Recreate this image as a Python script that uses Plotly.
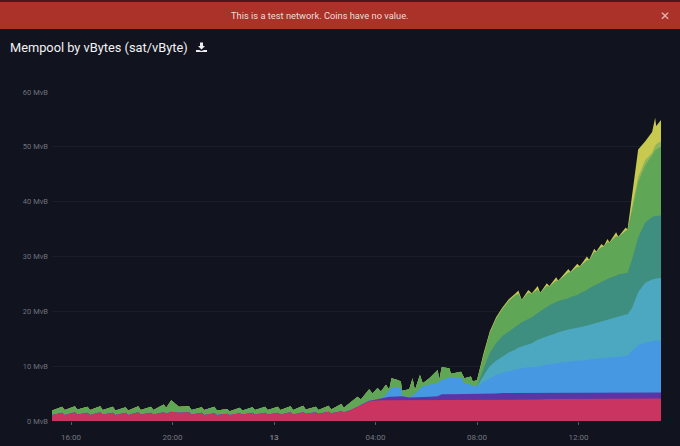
import plotly.graph_objects as go

# time in hours since 00:00 of the previous day
hours_early = [15.25,15.65,15.75,16.15,16.25,16.65,16.75,17.15,17.25,17.65,17.75,18.15,18.25,18.65,18.75,19.15,19.25,19.65,19.75,19.95,
               20.25,20.65,20.75,21.15,21.25,21.65,21.75,22.15,22.25,22.65,22.75,23.15,23.25,23.65,23.75,24.15,24.25,24.65,24.75,25.15,
               25.25,25.65,25.75,26.15,26.25,26.65,26.75]
pink_early = [1.1,1.5,1.1,1.6,1.2,1.5,1.1,1.6,1.2,1.5,1.1,1.5,1.1,1.6,1.2,1.5,1.2,1.6,1.3,1.7,
              1.5,1.6,1.2,1.5,1.1,1.4,1.1,1.3,1.1,1.4,1.2,1.5,1.2,1.5,1.2,1.5,1.2,1.6,1.2,1.6,
              1.3,1.6,1.3,1.7,1.4,1.8,1.6]
total_early = [1.9,2.6,2.0,2.7,2.1,2.6,2.0,2.7,2.0,2.6,1.9,2.5,1.9,2.7,2.0,2.6,2.0,3.0,2.4,3.8,
               2.6,2.7,2.0,2.5,2.0,2.6,1.9,2.2,1.8,2.4,1.9,2.5,2.0,2.6,2.0,2.6,2.0,2.7,2.0,2.8,
               2.1,2.6,2.0,2.8,2.1,3.1,2.4]

hours_mid = [27.03,27.29,27.42,27.75,27.88,28.08,28.21,28.41,28.54,28.63,28.87,29.0,29.04,29.33,29.46,29.55,29.75,29.86,30.12,30.45,
             30.51,30.61,30.91,30.97,31.37,31.5,31.76,31.83,32.0]
pink_mid = [2.0,2.6,2.9,3.6,3.7,3.8,3.8,3.8,3.8,3.8,3.8,3.8,3.8,3.8,3.8,3.8,3.8,3.8,3.8,3.8,
            3.8,3.8,3.8,3.8,3.8,3.9,3.9,3.9,3.9]
purple_mid = [2.0,2.6,2.9,3.7,3.8,4.0,4.0,4.3,4.4,4.4,4.5,4.5,4.5,4.3,4.3,4.3,4.3,4.3,4.4,4.5,
              4.7,4.9,4.9,4.9,5.0,5.0,5.0,5.0,5.0]
blue_mid = [2.0,2.6,2.9,3.7,3.8,4.0,4.0,4.8,5.6,6.0,6.0,6.0,4.6,4.3,4.6,5.0,5.8,6.3,6.6,6.9,
            7.2,7.5,7.9,7.9,7.8,6.8,6.6,6.4,6.3]
total_mid = [3.5,4.4,3.9,5.8,5.0,6.0,5.4,6.6,5.7,7.8,7.5,7.2,5.5,5.8,7.8,5.6,8.4,6.9,7.8,9.3,
             7.5,9.8,9.6,8.6,9.0,7.8,8.1,7.2,7.5]

hours_late = [32.25,32.5,32.75,33.0,33.25,33.5,33.63,33.76,34.02,34.16,34.39,34.49,34.75,34.85,35.12,35.2,35.6,35.68,35.95,36.05,
              36.33,36.42,36.62,36.7,36.9,37.0,37.14,37.22,37.48,37.57,37.86,37.93,38.11,38.35,38.63,38.9,39.02,39.06,39.25]
pink_late = [3.9,3.9,3.9,3.9,3.9,3.9,3.9,3.9,3.9,3.9,3.9,3.9,4.0,4.0,4.0,4.0,4.0,4.0,4.0,4.0,
             4.0,4.0,4.0,4.0,4.0,4.0,4.0,4.0,4.0,4.0,4.0,4.0,4.1,4.1,4.1,4.1,4.1,4.1,4.1]
purple_late = [5.0,5.0,5.0,5.1,5.1,5.1,5.1,5.1,5.1,5.1,5.1,5.1,5.1,5.1,5.1,5.1,5.1,5.1,5.1,5.1,
               5.1,5.1,5.1,5.2,5.2,5.2,5.2,5.2,5.2,5.2,5.2,5.2,5.2,5.2,5.2,5.2,5.2,5.2,5.2]
blue_late = [7.1,7.8,8.4,8.8,9.1,9.3,9.5,9.6,9.8,9.8,10.0,10.0,10.3,10.3,10.5,10.6,10.8,10.9,11.0,11.0,
             11.1,11.2,11.3,11.3,11.5,11.5,11.6,11.6,11.8,11.8,11.9,11.9,12.8,13.8,14.3,14.6,14.7,14.7,14.7]
teal_light_late = [8.2,10.0,11.0,11.8,12.5,13.0,13.4,13.6,14.0,14.2,14.8,15.0,15.5,15.6,16.0,16.2,16.7,16.8,17.0,17.1,
                   17.3,17.5,17.8,17.9,18.2,18.3,18.5,18.6,19.0,19.1,19.4,19.4,20.6,23.5,25.2,25.8,26.0,26.0,26.1]
teal_late = [9.5,12.4,14.2,15.5,16.3,17.2,17.7,18.0,18.6,18.9,19.7,20.0,20.8,21.1,21.7,21.9,22.4,22.6,23.0,23.3,
             23.9,24.2,24.7,24.9,25.3,25.5,25.9,26.1,26.5,26.7,27.0,27.0,29.5,33.5,36.2,37.2,37.4,37.4,37.5]
green_late = [12.0,16.0,18.6,20.4,21.9,22.9,23.2,22.0,23.4,23.2,24.0,23.3,24.6,24.5,25.6,25.5,27.1,27.1,28.1,28.1,
              29.3,29.3,30.8,30.8,31.7,31.8,32.6,32.5,33.7,33.5,34.7,34.8,38.5,43.6,46.7,48.4,49.4,49.5,50.0]
lime_late = [12.05,16.05,18.65,20.45,21.95,22.95,23.25,22.05,23.45,23.25,24.05,23.35,24.65,24.55,25.65,25.55,27.15,27.15,28.15,28.15,
             29.35,29.35,30.85,30.85,31.75,31.85,32.65,32.55,33.75,33.55,34.75,34.85,39.0,44.5,47.6,48.9,50.2,50.5,51.0]
yellow_late = [12.2,16.3,18.9,20.7,22.2,23.2,23.8,22.1,23.9,23.3,24.6,23.4,25.1,24.6,26.2,25.6,27.7,27.2,28.7,28.2,
               30.0,29.4,31.4,30.9,32.3,31.9,33.2,32.6,34.4,33.6,35.3,34.9,41.0,49.5,51.0,52.7,55.3,53.8,54.9]

hours = hours_early + hours_mid + hours_late
pink = pink_early + pink_mid + pink_late
purple = pink_early + purple_mid + purple_late
blue = pink_early + blue_mid + blue_late
teal_light = pink_early + blue_mid + teal_light_late
teal = pink_early + blue_mid + teal_late
green = total_early + total_mid + green_late
lime = total_early + total_mid + lime_late
yellow = total_early + total_mid + yellow_late

layers = [
    ("8+", yellow, "#c8c94f"),
    ("7", lime, "#8fb45c"),
    ("6", green, "#5fa757"),
    ("5", teal, "#3f8f80"),
    ("4", teal_light, "#4ba8c0"),
    ("3", blue, "#4698e2"),
    ("2", purple, "#5b35a6"),
    ("1", pink, "#c93461"),
]

x_tick_values = [16, 20, 24, 28, 32, 36]
x_tick_labels = ["16:00", "20:00", "<b>13</b>", "04:00", "08:00", "12:00"]
y_tick_values = [0, 10, 20, 30, 40, 50, 60]
y_tick_labels = ["0 MvB", "10 MvB", "20 MvB", "30 MvB", "40 MvB", "50 MvB", "60 MvB"]

W, H = 680, 446
L, R, T, B = 52, 19, 92, 25
px = lambda v: (v - L) / (W - L - R)
py = lambda v: (H - B - v) / (H - T - B)

fig = go.Figure()
for name, vals, col in layers:
    fig.add_trace(go.Scatter(x=hours, y=vals, name=name, mode="lines", fill="tozeroy",
                             fillcolor=col, line=dict(width=0, color=col), hoverinfo="skip"))

icon = (f"M {px(200)} {py(42.5)} L {px(203)} {py(42.5)} L {px(203)} {py(46)} L {px(205)} {py(46)} "
        f"L {px(201.5)} {py(49.5)} L {px(198)} {py(46)} L {px(200)} {py(46)} Z "
        f"M {px(196)} {py(50)} L {px(199)} {py(50)} L {px(201.5)} {py(51)} L {px(204)} {py(50)} "
        f"L {px(207)} {py(50)} L {px(207)} {py(52)} L {px(196)} {py(52)} Z")

fig.update_layout(
    width=W, height=H, margin=dict(l=L, r=R, t=T, b=B, pad=0, autoexpand=False),
    paper_bgcolor="#11131f", plot_bgcolor="#11131f", showlegend=False,
    font=dict(family="Roboto, sans-serif", color="#6f727c", size=8),
    xaxis=dict(range=[15.25, 39.25], tickmode="array", tickvals=x_tick_values, ticktext=x_tick_labels,
               automargin=False, ticklabelstandoff=5,
               showgrid=False, zeroline=False, showline=False, ticks="outside", ticklen=3, tickwidth=1,
               tickcolor="#5a5d68", tickfont=dict(size=8, color="#74777f")),
    yaxis=dict(range=[0, 60], tickmode="array", tickvals=y_tick_values, ticktext=y_tick_labels,
               automargin=False, ticklabelstandoff=3,
               gridcolor="#1a1e2a", gridwidth=1, zeroline=False, showline=False, ticks="",
               tickfont=dict(size=7.5, color="#6f727c")),
    shapes=[
        dict(type="rect", xref="paper", yref="paper", x0=px(0), x1=px(680), y0=py(29), y1=py(0),
             fillcolor="#ab3228", line=dict(width=0), layer="above"),
        dict(type="rect", xref="paper", yref="paper", x0=px(0), x1=px(680), y0=py(2), y1=py(0),
             fillcolor="#4a1a1a", line=dict(width=0), layer="above"),
        dict(type="path", xref="paper", yref="paper", path=icon, fillcolor="#eeeeee",
             line=dict(width=0), layer="above"),
    ],
    annotations=[
        dict(xref="paper", yref="paper", x=px(319.5), y=py(15.5), text="This is a test network. Coins have no value.",
             showarrow=False, font=dict(size=9.3, color="#f0dcd9", family="Roboto, sans-serif"),
             xanchor="center", yanchor="middle"),
        dict(xref="paper", yref="paper", x=px(665), y=py(15.5), text="<b>✕</b>", showarrow=False,
             font=dict(size=12, color="#e6b8b3", family="DejaVu Sans"), xanchor="center", yanchor="middle"),
        dict(xref="paper", yref="paper", x=px(8), y=py(47), text="Mempool by vBytes (sat/vByte)",
             showarrow=False, font=dict(size=12.8, color="#f2f2f4", family="Roboto, sans-serif"),
             xanchor="left", yanchor="middle"),
        dict(xref="paper", yref="paper", x=px(356), y=py(442), text="Apr 13, 2024", showarrow=False,
             font=dict(size=8, color="#74777f"), xanchor="center", yanchor="top"),
    ],
)

fig.write_html("out.html", config=dict(displayModeBar=False),
               post_script="document.body.style.margin='0';document.body.style.background='#11131f';")
